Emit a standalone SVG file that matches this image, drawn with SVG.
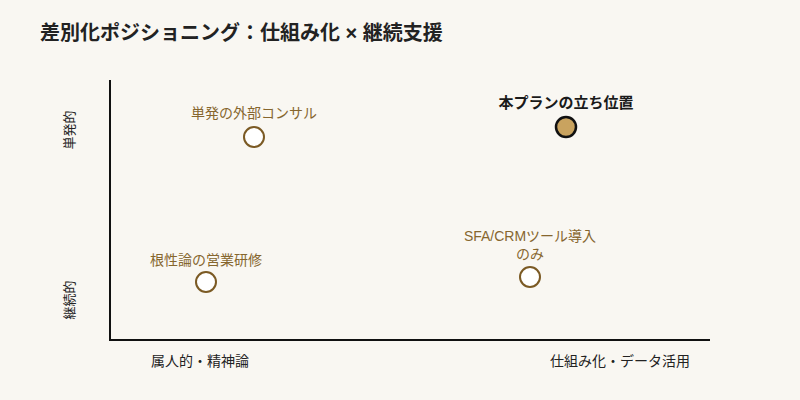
<svg xmlns="http://www.w3.org/2000/svg" width="800" height="400" viewBox="0 0 800 400">
<style>
text{font-family:"Liberation Sans","Noto Sans CJK JP",sans-serif}
.title{font-size:20px;font-weight:bold;fill:#222}
.axl{font-size:14px;fill:#222}
.axy{font-size:13px;fill:#222;text-anchor:middle}
.lbl{font-size:14px;fill:#86662e;text-anchor:middle}
.hl{font-size:15px;font-weight:bold;fill:#1a1a1a;text-anchor:middle}
.pt{fill:#fff;stroke:#7b5a24;stroke-width:2}
.axis{stroke:#111;stroke-width:2;fill:none}
</style>
<rect width="800" height="400" fill="#f9f7f2"/>
<text class="title" x="40" y="40">差別化ポジショニング：仕組み化 × 継続支援</text>
<g id="axes">
<path class="axis" d="M110,80 V340 H710"/>
</g>
<text class="axy" transform="translate(74,130) rotate(-90)">単発的</text>
<text class="axy" transform="translate(74,300) rotate(-90)">継続的</text>
<text class="axl" x="200" y="366" text-anchor="middle">属人的・精神論</text>
<text class="axl" x="620" y="366" text-anchor="middle">仕組み化・データ活用</text>
<g id="consul">
<text class="lbl" x="254" y="118">単発の外部コンサル</text>
<circle class="pt" cx="254" cy="137" r="10"/>
</g>
<g id="plan">
<text class="hl" x="566" y="108">本プランの立ち位置</text>
<circle cx="566" cy="127" r="10" fill="#c9a35f" stroke="#111" stroke-width="2.5"/>
</g>
<g id="konjo">
<text class="lbl" x="206" y="265">根性論の営業研修</text>
<circle class="pt" cx="206" cy="282" r="10"/>
</g>
<g id="sfa">
<text class="lbl" x="530" y="241">SFA/CRMツール導入</text>
<text class="lbl" x="530" y="259">のみ</text>
<circle class="pt" cx="530" cy="277" r="10"/>
</g>
</svg>
